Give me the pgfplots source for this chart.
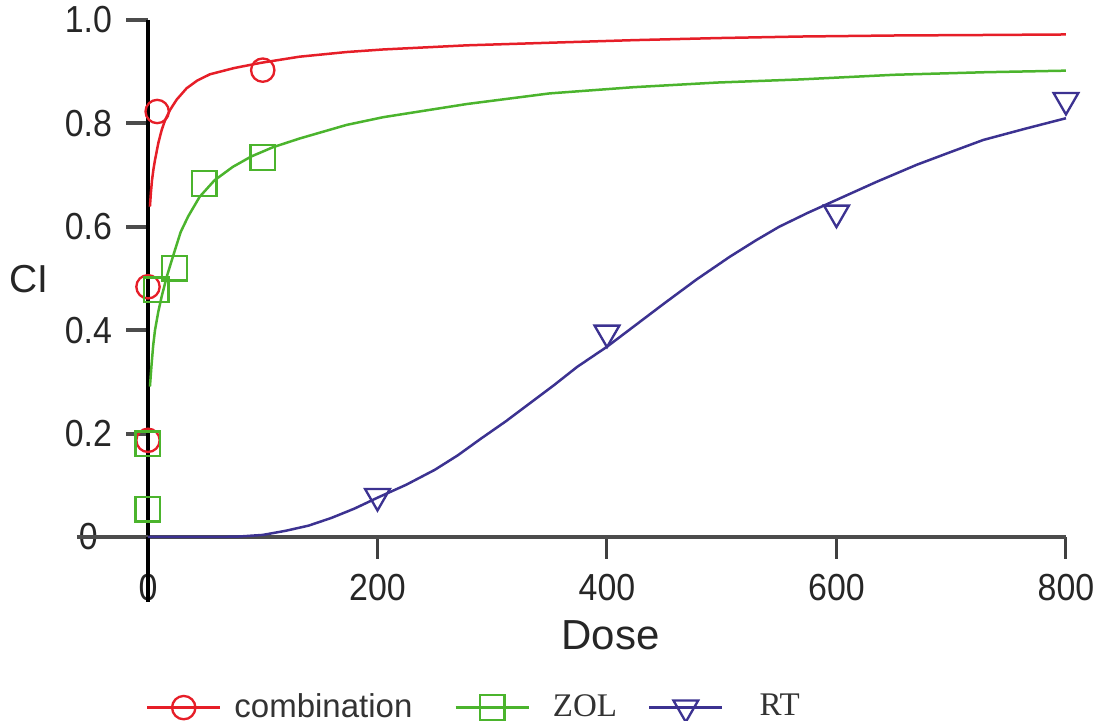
\documentclass[border=0pt]{standalone}
\usepackage{fontspec}
\setmainfont{Liberation Sans}
\newfontfamily\legserif{Liberation Serif}
\newfontfamily\tickfont{Liberation Sans}[FakeStretch=0.9]
\usepackage{pgfplots}
\pgfplotsset{compat=1.18}

\definecolor{cred}{RGB}{230,30,40}
\definecolor{cgreen}{RGB}{75,180,45}
\definecolor{cblue}{RGB}{60,50,145}

\begin{document}
\begin{tikzpicture}
\path[use as bounding box] (-44.4pt,-55.2pt) rectangle (285.3pt,161.1pt);
\begin{axis}[
    at={(0pt,0pt)}, anchor=south west,
    width=275.4pt, height=155.1pt, scale only axis,
    xmin=0, xmax=800, ymin=0, ymax=1,
    clip=false,
    axis lines*=left,
    x axis line style={draw=black!70, line width=1.3pt},
    y axis line style={draw=black, line width=1pt},
    xtick={0,200,400,600,800},
    ytick={0,0.2,0.4,0.6,0.8,1},
    yticklabels={0,0.2,0.4,0.6,0.8,1.0},
    tick align=outside,
    major tick length=6.5pt,
    xtick style={draw=black!75, line width=0.9pt},
    ytick style={draw=black!70, line width=1.2pt},
    /pgf/number format/assume math mode=true,
    tick label style={font=\tickfont\fontsize{11.3}{13}\selectfont, text=black!85},
    xticklabel style={yshift=-1pt},
    yticklabel style={text width=15.7pt, align=center},
    ylabel={CI}, xlabel={Dose},
    every axis y label/.style={at={(axis description cs:-0.1296,0.499)}, anchor=center,
        font=\fontsize{11.7}{14}\selectfont, text=black!85},
    every axis x label/.style={at={(axis description cs:0.504,-0.19)}, anchor=center,
        font=\fontsize{12.6}{15}\selectfont, text=black!85},
    legend columns=-1,
    legend style={at={(-0.0022,-0.33)}, anchor=west, draw=none, fill=none,
        inner sep=0pt, outer sep=0pt, nodes={inner sep=0pt},
        font=\fontsize{9.9}{12}\selectfont, text=black!80,
        /tikz/every even column/.style={column sep=0pt},
        /tikz/every odd column/.style={column sep=0pt}},
    legend image code/.code={\draw[mark repeat=2,mark phase=2,#1]
        plot coordinates {(0pt,0pt) (10.95pt,0pt) (21.9pt,0pt)};},
]
% axis extensions as in the original
\draw[black!70, line width=1.3pt] (axis cs:-62,0) -- (axis cs:0,0);
\draw[black, line width=1pt] (axis cs:0,0) -- (axis cs:0,-0.126);

% combination
\addplot[cred, line width=0.75pt, forget plot] coordinates {
 (1.7,0.639) (2.5,0.665) (3.5,0.69) (4.8,0.712) (6.1,0.729) (9,0.762) (11.9,0.787)
 (15,0.807) (19.2,0.826) (25,0.846) (33.7,0.868) (43,0.883) (54,0.895) (75,0.907)
 (98,0.917) (132,0.929) (173,0.938) (205,0.943) (278,0.951) (350,0.956) (423,0.961)
 (496,0.965) (568,0.968) (650,0.970) (730,0.971) (800,0.972)};
\addplot[cred, only marks, mark=o, mark size=3.5pt, mark options={solid, line width=0.7pt}, forget plot]
 coordinates {(0,0.187) (0,0.484) (8,0.823) (100,0.903)};

% ZOL
\addplot[cgreen, line width=0.75pt, forget plot] coordinates {
 (1.7,0.291) (3,0.33) (4.5,0.37) (6.1,0.40) (9,0.436) (11.9,0.465) (16.3,0.503)
 (20,0.53) (23.5,0.555) (28.5,0.59) (35,0.62) (45,0.658) (58,0.69) (74,0.716)
 (90,0.736) (109,0.754) (132.5,0.771) (173,0.797) (205,0.812) (278,0.8375)
 (350,0.858) (423,0.87) (496,0.879) (568,0.885) (650,0.894) (730,0.899) (800,0.902)};
\addplot[cgreen, only marks, mark=square, mark size=3.7pt, mark options={solid, line width=0.7pt}, forget plot]
 coordinates {(0,0.054) (0,0.18) (7,0.478) (23,0.52) (49,0.684) (100,0.734)};

% RT
\addplot[cblue, line width=0.75pt, forget plot] coordinates {
 (0,0) (60,0) (80,0.001) (100,0.004) (120,0.012) (140,0.022) (160,0.037) (180,0.055)
 (200,0.076) (225,0.101) (250,0.13) (270,0.158) (290,0.19) (312,0.224) (333,0.259)
 (354,0.294) (374,0.329) (400,0.368) (425,0.41) (450,0.452) (478,0.498) (507,0.542)
 (530,0.574) (550,0.6) (575,0.627) (600,0.652) (635,0.687) (670,0.72) (700,0.745)
 (728,0.768) (765,0.79) (800,0.81)};
\addplot[cblue, only marks, mark=triangle, mark size=4.3pt, mark options={solid, rotate=180, line width=0.7pt}, forget plot]
 coordinates {(200,0.079) (400,0.395) (600,0.627) (800,0.845)};

\addlegendimage{cred, line width=0.75pt, mark=o, mark size=3.5pt, mark options={solid, line width=0.7pt}}
\addlegendentry{\hspace*{3.9pt}combination\rule{12.6pt}{0pt}}
\addlegendimage{cgreen, line width=0.75pt, mark=square, mark size=3.7pt, mark options={solid, line width=0.7pt}}
\addlegendentry{\hspace*{6.9pt}{\legserif ZOL}\rule{9.3pt}{0pt}}
\addlegendimage{cblue, line width=0.75pt, mark=triangle, mark size=4.3pt, mark options={solid, rotate=180, line width=0.7pt}}
\addlegendentry{\hspace*{10.8pt}{\legserif RT}}
\end{axis}
\end{tikzpicture}
\end{document}
